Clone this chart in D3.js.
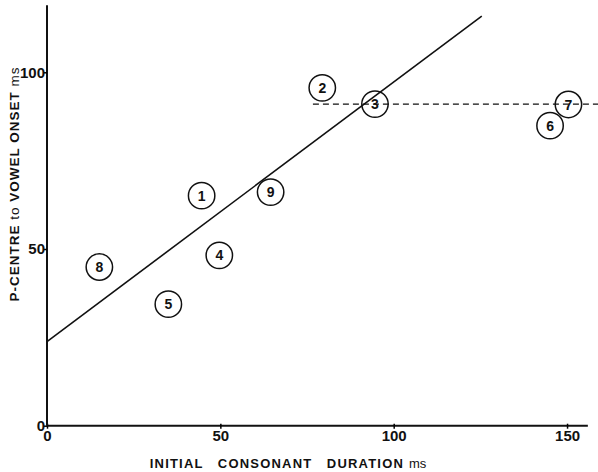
<html>
    <head>
        <script src="https://d3js.org/d3.v7.min.js"></script>
        <style>
            body { margin: 0; background: #fff; }
            text { font-family: "Liberation Sans", Arial, sans-serif; fill: #111; }
        </style>
    </head>
    <body>
        <svg id="chart"></svg>
    </body>
    <script>
        const WIDTH = 598
        const HEIGHT = 472
        const MARGIN = {top: 5.6, left: 47}

        // Data
        const pointIds = [1, 2, 3, 4, 5, 6, 7, 8, 9]
        const durations = [44.6, 79.4, 94.6, 49.7, 35.0, 145.1, 150.4, 15.1, 64.5]
        const pcentres = [65.1, 95.6, 91.0, 48.2, 34.4, 84.9, 90.9, 44.9, 66.1]
        const fitLine = [[0, 23.8], [125.4, 115.9]]
        const plateauLine = [[76.7, 91], [159, 91]]
        const xTicks = [0, 50, 100, 150]
        const yTicks = [0, 50, 100]

        const svg = d3.select("#chart")
            .attr("width", WIDTH)
            .attr("height", HEIGHT)

        const xScale = d3.scaleLinear().domain([0, 156]).range([MARGIN.left, MARGIN.left + 156 * 3.467])
        const yScale = d3.scaleLinear().domain([0, 119]).range([425.7, 425.7 - 119 * 3.534])

        // axes
        const xAxis = d3.axisBottom(xScale).tickValues(xTicks).tickSize(3).tickSizeOuter(0)
        const yAxis = d3.axisLeft(yScale).tickValues(yTicks).tickSize(3).tickSizeOuter(0)

        const gx = svg.append("g")
            .attr("transform", `translate(0,${yScale(0)})`)
            .call(xAxis)
        gx.select(".domain").attr("stroke-width", 2).attr("stroke", "#111")
            .attr("d", `M${xScale(0)},0H${xScale(156)}`)
        gx.selectAll(".tick line").attr("y1", -2).attr("stroke-width", 1.5)
        gx.selectAll(".tick text")
            .attr("dy", "0.9em")
            .attr("y", 2)
            .style("font-size", "15px")
            .style("font-family", "'Liberation Sans', Arial, sans-serif")
            .style("font-weight", "bold")
            .attr("fill", "#111")

        const gy = svg.append("g")
            .attr("transform", `translate(${xScale(0)},0)`)
            .call(yAxis)
        gy.select(".domain").attr("stroke-width", 2).attr("stroke", "#111")
            .attr("d", `M0,${yScale(0)}V${yScale(119)}`)
        gy.selectAll(".tick line").attr("x1", 0).attr("x2", -3).attr("stroke-width", 1.5)
        gy.selectAll(".tick text")
            .attr("x", -2)
            .style("font-size", "15px")
            .style("font-family", "'Liberation Sans', Arial, sans-serif")
            .style("font-weight", "bold")
            .attr("fill", "#111")

        // axis titles
        svg.append("text")
            .attr("x", 288)
            .attr("y", 468)
            .attr("text-anchor", "middle")
            .attr("xml:space", "preserve")
            .style("font-size", "13px")
            .style("font-weight", "bold")
            .style("letter-spacing", "1.2px")
            .text("INITIAL   CONSONANT   DURATION ")
            .append("tspan")
                .style("font-weight", "normal")
                .style("letter-spacing", "0px")
                .text("ms")

        const yTitle = svg.append("text")
            .attr("transform", `translate(19,184) rotate(-90)`)
            .attr("text-anchor", "middle")
            .style("font-size", "13.5px")
            .style("font-weight", "bold")
            .style("letter-spacing", "1px")
        yTitle.append("tspan").text("P-CENTRE ")
        yTitle.append("tspan").style("font-weight", "normal").text("to ")
        yTitle.append("tspan").text("VOWEL ONSET ")
        yTitle.append("tspan").style("font-weight", "normal").text("ms")

        // fitted line and plateau
        const line = d3.line()
            .x(d => xScale(d[0]))
            .y(d => yScale(d[1]))

        svg.append("path")
            .datum(fitLine)
            .attr("fill", "none")
            .attr("stroke", "#111")
            .attr("stroke-width", 1.6)
            .attr("d", line)

        svg.append("path")
            .datum(plateauLine)
            .attr("fill", "none")
            .attr("stroke", "#111")
            .attr("stroke-width", 1.4)
            .attr("stroke-dasharray", "6,4")
            .attr("d", line)

        // numbered circles
        const points = pointIds.map((id, i) => ({id: id, x: durations[i], y: pcentres[i]}))
        const g = svg.append("g")
            .selectAll("g")
            .data(points)
            .join("g")
                .attr("transform", d => `translate(${xScale(d.x)},${yScale(d.y)})`)
        g.append("circle")
            .attr("r", 13.2)
            .attr("fill", "none")
            .attr("stroke", "#111")
            .attr("stroke-width", 1.5)
        g.append("text")
            .attr("text-anchor", "middle")
            .attr("dy", "0.36em")
            .style("font-size", "14px")
            .style("font-weight", "bold")
            .text(d => d.id)
    </script>
</html>
